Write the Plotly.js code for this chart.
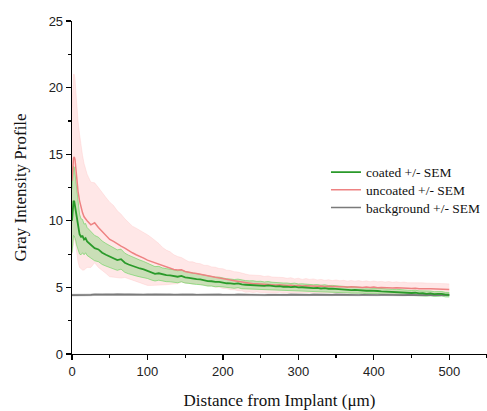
<!DOCTYPE html>
<html>
<head>
<meta charset="utf-8">
<script src="https://cdn.plot.ly/plotly-3.0.1.min.js"></script>
<style>
  html, body { margin: 0; padding: 0; background: #ffffff; }
  #chart { width: 487px; height: 411px; }
</style>
</head>
<body>
<div id="chart"></div>
<script>
// Distance from implant (µm)
const distance = [
  0,1,2,3,4,5,6,8,10,12,14,16,18,20,
  25,30,35,40,45,50,55,60,65,70,
  75,80,85,90,95,100,105,110,115,120,
  125,130,135,140,145,150,155,160,165,170,
  175,180,185,190,195,200,205,210,215,220,
  225,230,235,240,245,250,255,260,265,270,
  275,280,285,290,295,300,305,310,315,320,
  325,330,335,340,345,350,355,360,365,370,
  375,380,385,390,395,400,405,410,415,420,
  425,430,435,440,445,450,455,460,465,470,
  475,480,485,490,495,500
];

const coatedMean = [
  10.0,11.0,11.5,11.45,11.1,10.7,10.2,9.5,9.0,8.8,8.85,8.6,8.7,8.45,
  8.2,7.95,7.85,7.6,7.45,7.3,7.2,7.05,7.12,6.85,
  6.72,6.6,6.52,6.42,6.35,6.25,6.12,6.02,6.06,5.96,
  5.92,5.9,5.86,5.8,5.86,5.76,5.72,5.66,5.62,5.6,
  5.52,5.47,5.46,5.41,5.42,5.36,5.31,5.3,5.26,5.3,
  5.22,5.2,5.18,5.2,5.15,5.16,5.12,5.15,5.1,5.08,
  5.1,5.05,5.06,5.02,5.05,5.0,5.01,4.98,5.0,4.95,
  4.96,4.92,4.95,4.9,4.91,4.88,4.85,4.86,4.82,4.8,
  4.81,4.78,4.78,4.75,4.76,4.72,4.73,4.7,4.68,4.7,
  4.65,4.66,4.62,4.63,4.6,4.58,4.6,4.55,4.56,4.52,
  4.55,4.5,4.51,4.52,4.46,4.45
];
const coatedSem = [
  2.4,2.5,2.6,2.6,2.4,2.2,2.0,1.7,1.5,1.35,1.25,1.15,1.1,1.05,
  1.0,0.95,0.92,0.88,0.85,0.82,0.8,0.77,0.75,0.72,
  0.7,0.68,0.66,0.63,0.6,0.58,0.56,0.54,0.52,0.5,
  0.49,0.48,0.46,0.45,0.44,0.43,0.42,0.41,0.4,0.39,
  0.38,0.37,0.36,0.36,0.35,0.34,0.34,0.33,0.33,0.32,
  0.32,0.31,0.31,0.3,0.3,0.3,0.29,0.29,0.29,0.28,
  0.28,0.28,0.27,0.27,0.27,0.26,0.26,0.26,0.26,0.25,
  0.25,0.25,0.25,0.24,0.24,0.24,0.24,0.23,0.23,0.23,
  0.23,0.22,0.22,0.22,0.22,0.21,0.21,0.21,0.21,0.2,
  0.2,0.2,0.2,0.2,0.19,0.19,0.19,0.19,0.18,0.18,
  0.18,0.18,0.18,0.17,0.17,0.17
];

const uncoatedMean = [
  13.0,14.0,14.7,14.8,14.6,14.0,13.2,12.2,11.5,11.0,10.6,10.3,10.1,10.0,
  9.7,9.85,9.5,9.2,8.9,8.6,8.45,8.25,8.1,7.95,
  7.75,7.6,7.45,7.35,7.2,7.05,6.95,6.85,6.75,6.6,
  6.5,6.45,6.35,6.3,6.32,6.2,6.12,6.08,6.05,5.98,
  5.92,5.88,5.82,5.76,5.72,5.66,5.6,5.55,5.5,5.45,
  5.4,5.32,5.3,5.27,5.28,5.25,5.22,5.24,5.2,5.18,
  5.2,5.16,5.14,5.17,5.12,5.15,5.1,5.13,5.1,5.12,
  5.08,5.1,5.06,5.08,5.05,5.07,5.04,5.05,5.02,5.05,
  5.02,5.04,5.0,5.03,4.99,5.02,4.98,5.0,4.97,4.99,
  4.95,4.97,4.94,4.96,4.93,4.92,4.94,4.9,4.92,4.89,
  4.9,4.88,4.9,4.86,4.87,4.85
];
const uncoatedSem = [
  5.5,6.0,6.3,6.2,6.0,5.8,5.6,5.3,5.0,4.6,4.3,4.0,3.7,3.5,
  3.2,3.0,3.0,2.9,2.85,2.8,2.7,2.5,2.4,2.2,
  2.1,2.0,2.0,1.95,1.9,1.9,1.8,1.7,1.55,1.4,
  1.3,1.22,1.1,1.02,0.92,0.88,0.8,0.84,0.76,0.8,
  0.74,0.77,0.72,0.75,0.7,0.74,0.69,0.72,0.68,0.7,
  0.66,0.68,0.64,0.66,0.62,0.64,0.6,0.62,0.58,0.6,
  0.56,0.58,0.54,0.56,0.52,0.54,0.5,0.53,0.5,0.52,
  0.48,0.5,0.47,0.49,0.46,0.49,0.46,0.48,0.45,0.47,
  0.45,0.47,0.44,0.46,0.44,0.46,0.44,0.45,0.43,0.45,
  0.43,0.45,0.43,0.44,0.42,0.44,0.42,0.44,0.42,0.43,
  0.42,0.43,0.42,0.42,0.41,0.41
];

const backgroundMean = [
  4.42,4.42,4.43,4.41,4.42,4.43,4.42,4.42,4.43,4.42,4.41,4.43,4.44,4.45,
  4.44,4.47,4.46,4.47,4.48,4.47,4.46,4.48,4.47,4.46,
  4.48,4.47,4.46,4.47,4.45,4.46,4.47,4.48,4.46,4.45,
  4.46,4.47,4.45,4.46,4.48,4.49,4.47,4.46,4.45,4.46,
  4.47,4.45,4.46,4.47,4.46,4.45,4.44,4.46,4.45,4.47,
  4.46,4.45,4.44,4.45,4.46,4.44,4.43,4.45,4.44,4.46,
  4.45,4.43,4.44,4.46,4.45,4.44,4.43,4.45,4.44,4.46,
  4.45,4.44,4.43,4.45,4.44,4.46,4.45,4.43,4.44,4.45,
  4.44,4.43,4.45,4.44,4.42,4.44,4.43,4.45,4.44,4.43,
  4.42,4.44,4.43,4.42,4.44,4.43,4.41,4.43,4.42,4.44,
  4.43,4.42,4.41,4.43,4.42,4.42
];
const backgroundSem = [
  0.07,0.07,0.07,0.07,0.07,0.07,0.07,0.07,0.07,0.07,0.07,0.07,0.07,0.07,
  0.07,0.07,0.06,0.06,0.06,0.06,0.06,0.06,0.06,0.06,
  0.06,0.06,0.06,0.06,0.06,0.06,0.06,0.06,0.06,0.06,
  0.06,0.06,0.06,0.06,0.06,0.06,0.06,0.06,0.06,0.06,
  0.06,0.06,0.06,0.06,0.06,0.06,0.06,0.06,0.06,0.06,
  0.06,0.06,0.06,0.06,0.06,0.06,0.06,0.06,0.06,0.06,
  0.06,0.06,0.06,0.06,0.06,0.06,0.06,0.06,0.06,0.06,
  0.06,0.06,0.06,0.06,0.06,0.06,0.06,0.06,0.06,0.06,
  0.06,0.06,0.06,0.06,0.06,0.06,0.06,0.06,0.06,0.06,
  0.06,0.06,0.06,0.06,0.06,0.06,0.06,0.06,0.06,0.06,
  0.06,0.06,0.06,0.06,0.06,0.06
];

const seriesNames = ['coated +/- SEM', 'uncoated +/- SEM', 'background +/- SEM'];
const xTickVals = [0, 100, 200, 300, 400, 500];
const yTickVals = [0, 5, 10, 15, 20, 25];

function band(mean, sem, fillColor, edgeColor) {
  const upper = mean.map((m, i) => m + sem[i]);
  const lower = mean.map((m, i) => m - sem[i]);
  return [
    { x: distance, y: upper, type: 'scatter', mode: 'lines',
      line: { color: edgeColor, width: 0.8 }, showlegend: false, hoverinfo: 'skip' },
    { x: distance, y: lower, type: 'scatter', mode: 'lines', fill: 'tonexty',
      fillcolor: fillColor, line: { color: edgeColor, width: 0.8 },
      showlegend: false, hoverinfo: 'skip' }
  ];
}

const traces = [].concat(
  band(uncoatedMean, uncoatedSem, 'rgba(255,170,170,0.28)', 'rgba(255,190,190,0.4)'),
  band(coatedMean, coatedSem, 'rgba(90,205,80,0.32)', 'rgba(90,210,80,0.7)'),
  band(backgroundMean, backgroundSem, 'rgba(150,150,150,0.4)', 'rgba(150,150,150,0.4)'),
  [
    { x: distance, y: backgroundMean, type: 'scatter', mode: 'lines', name: seriesNames[2],
      legend: 'legend3', line: { color: '#7a7a7a', width: 1.6 } },
    { x: distance, y: uncoatedMean, type: 'scatter', mode: 'lines', name: seriesNames[1],
      legend: 'legend2', line: { color: '#ee8282', width: 1.5 } },
    { x: distance, y: coatedMean, type: 'scatter', mode: 'lines', name: seriesNames[0],
      legend: 'legend', line: { color: '#2a9a2a', width: 1.8 } }
  ]
);

const serif = '"Liberation Serif", "Times New Roman", serif';
const sans = '"Liberation Sans", Arial, sans-serif';

function legendAt(y) {
  return {
    x: 0.612, y: y, xanchor: 'left', yanchor: 'middle',
    font: { family: serif, size: 13.5, color: '#111' },
    bgcolor: 'rgba(0,0,0,0)', borderwidth: 0, itemwidth: 30
  };
}

const layout = {
  width: 487, height: 411,
  margin: { l: 72, r: 0, t: 21, b: 57 },
  paper_bgcolor: '#ffffff', plot_bgcolor: '#ffffff',
  showlegend: true,
  legend: legendAt(0.5456),
  legend2: legendAt(0.4925),
  legend3: legendAt(0.4393),
  xaxis: {
    range: [0, 550], tickvals: xTickVals,
    ticks: 'outside', ticklen: 5, tickwidth: 1.2, tickcolor: '#000',
    minor: { dtick: 50, tick0: 0, ticks: 'outside', ticklen: 3, tickwidth: 1.2, tickcolor: '#000', showgrid: false },
    showline: true, linecolor: '#000', linewidth: 1.3,
    showgrid: false, zeroline: false,
    tickfont: { family: sans, size: 13, color: '#222' },
    title: { text: 'Distance from Implant (\u03bcm)', font: { family: serif, size: 17, color: '#111' }, standoff: 16 }
  },
  yaxis: {
    range: [0, 25], tickvals: yTickVals,
    ticks: 'outside', ticklen: 5, tickwidth: 1.2, tickcolor: '#000',
    minor: { dtick: 2.5, tick0: 0, ticks: 'outside', ticklen: 3, tickwidth: 1.2, tickcolor: '#000', showgrid: false },
    showline: true, linecolor: '#000', linewidth: 1.3,
    showgrid: false, zeroline: false,
    tickfont: { family: sans, size: 13, color: '#222' },
    title: { text: 'Gray Intensity Profile', font: { family: serif, size: 17, color: '#111' }, standoff: 17 }
  }
};

Plotly.newPlot('chart', traces, layout, { displayModeBar: false, staticPlot: true });
</script>
</body>
</html>
